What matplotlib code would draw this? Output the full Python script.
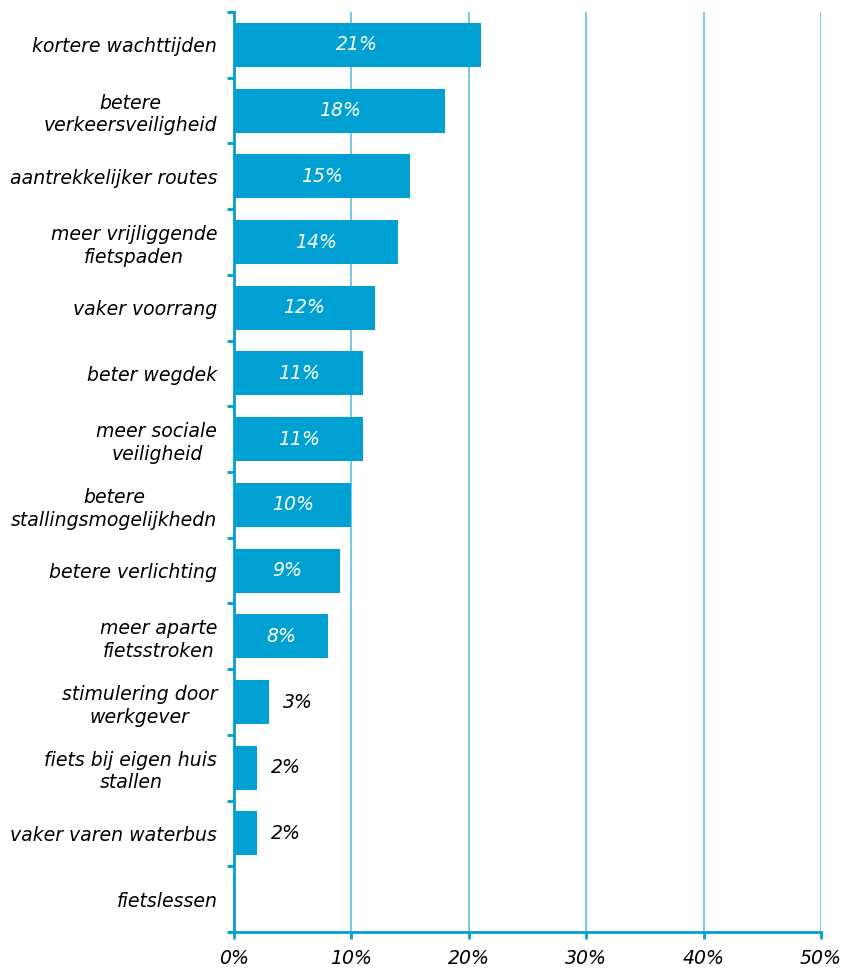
import numpy as np
import matplotlib
matplotlib.use('Agg')
import matplotlib.pyplot as plt

categories = ['kortere wachttijden', 'betere\nverkeersveiligheid', 'aantrekkelijker routes',
              'meer vrijliggende\nfietspaden', 'vaker voorrang', 'beter wegdek',
              'meer sociale\nveiligheid', 'betere\nstallingsmogelijkhedn', 'betere verlichting',
              'meer aparte\nfietsstroken', 'stimulering door\nwerkgever',
              'fiets bij eigen huis\nstallen', 'vaker varen waterbus', 'fietslessen']
values = [21, 18, 15, 14, 12, 11, 11, 10, 9, 8, 3, 2, 2, 0]
xticks = [0, 10, 20, 30, 40, 50]

blue = '#00A0D2'
grid_blue = '#4DBBE2'
fs = 13.6

fig = plt.figure(figsize=(8.45, 9.71), dpi=100)
ax = fig.add_axes([234/845, 39/971, 587/845, 920/971])

y = np.arange(len(categories))
ax.barh(y, values, height=0.67, color=blue, zorder=3)

for yi, v in zip(y, values):
    if v >= 8:
        ax.text(v / 2, yi, f'{v}%', color='white', ha='center', va='center',
                fontsize=fs, fontstyle='italic', zorder=4)
    elif v > 0:
        ax.annotate(f'{v}%', (v, yi), xytext=(10, 0), textcoords='offset points',
                    ha='left', va='center', fontsize=fs, fontstyle='italic', color='black')

ax.set_xlim(0, 50)
ax.set_ylim(len(categories) - 0.5, -0.5)
ax.set_xticks(xticks)
ax.set_xticklabels([f'{t}%' for t in xticks], fontsize=fs, fontstyle='italic')
ax.set_yticks(y)
ax.set_yticklabels(categories, fontsize=fs, fontstyle='italic', linespacing=1.25,
                   multialignment='center')
ax.set_yticks(np.arange(-0.5, len(categories), 1), minor=True)

ax.tick_params(axis='y', which='major', length=0, pad=12)
ax.tick_params(axis='y', which='minor', length=5, width=2, color=blue, direction='out')
ax.tick_params(axis='x', length=5, width=2, color=blue, pad=7)

ax.xaxis.grid(True, color=grid_blue, linewidth=1.1, zorder=0)
for s in ['top', 'right']:
    ax.spines[s].set_visible(False)
for s in ['left', 'bottom']:
    ax.spines[s].set_color(blue)
    ax.spines[s].set_linewidth(2)

fig.savefig('out.png', dpi=100)
